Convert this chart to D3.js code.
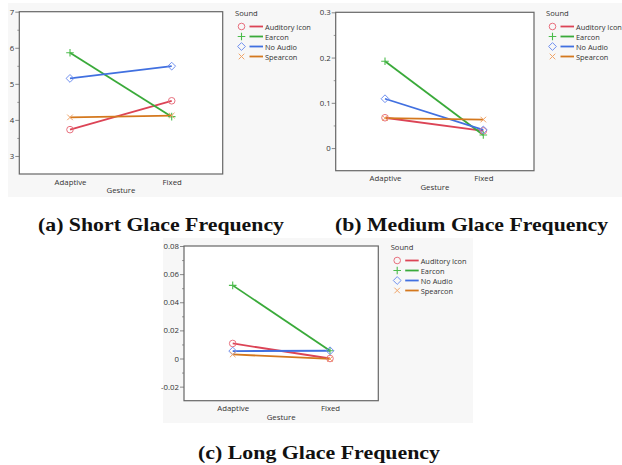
<!DOCTYPE html>
<html>
<head>
<meta charset="utf-8">
<script src="https://cdn.jsdelivr.net/npm/d3@7"></script>
<style>
  body { margin: 0; background: #fff; }
  svg { display: block; }
</style>
</head>
<body>
<svg id="chart" width="622" height="465"></svg>
<script>
// categories
const gestures = ["Adaptive", "Fixed"];
const sounds = ["Auditory Icon", "Earcon", "No Audio", "Spearcon"];

// values per sound, [Adaptive, Fixed]
const shortGlance = [[3.73, 4.53], [5.86, 4.09], [5.15, 5.49], [4.07, 4.12]];
const mediumGlance = [[0.067, 0.038], [0.192, 0.029], [0.109, 0.040], [0.066, 0.063]];
const longGlance = [[0.0107, 0.0], [0.052, 0.0055], [0.0053, 0.0055], [0.0029, -0.0003]];

// tick labels
const shortTicks = ["3", "4", "5", "6", "7"];
const mediumTicks = ["0", "0.1", "0.2", "0.3"];
const longTicks = ["-0.02", "0", "0.02", "0.04", "0.06", "0.08"];

const captions = ["(a) Short Glace Frequency", "(b) Medium Glace Frequency", "(c) Long Glace Frequency"];

const lineColors = ["#dc4456", "#3aaa3a", "#4170e0", "#d4781e"];
const markColors = ["#e8707e", "#4cbc4c", "#7090f0", "#f0a468"];
const shapes = ["circle", "plus", "diamond", "cross"];

const svg = d3.select("#chart");
const sansFont = "'Open Sans', 'Noto Sans', sans-serif";

function drawMarker(g, shape, x, y, color) {
    const s = 3.3;
    if (shape === "circle") {
        g.append("circle").attr("cx", x).attr("cy", y).attr("r", s)
            .attr("fill", "none").attr("stroke", color).attr("stroke-width", 1);
    } else if (shape === "diamond") {
        g.append("path")
            .attr("d", `M${x},${y - s - 0.6}L${x + s + 0.6},${y}L${x},${y + s + 0.6}L${x - s - 0.6},${y}Z`)
            .attr("fill", "none").attr("stroke", color).attr("stroke-width", 1);
    } else if (shape === "plus") {
        g.append("path")
            .attr("d", `M${x - s - 0.5},${y}H${x + s + 0.5}M${x},${y - s - 0.5}V${y + s + 0.5}`)
            .attr("stroke", color).attr("stroke-width", 1.1);
    } else {
        g.append("path")
            .attr("d", `M${x - s + 0.5},${y - s + 0.5}L${x + s - 0.5},${y + s - 0.5}M${x - s + 0.5},${y + s - 0.5}L${x + s - 0.5},${y - s + 0.5}`)
            .attr("stroke", color).attr("stroke-width", 1);
    }
}

function drawPanel(p) {
    const g = svg.append("g");

    // panel background
    g.append("rect").attr("x", p.bg[0]).attr("y", p.bg[1])
        .attr("width", p.bg[2]).attr("height", p.bg[3]).attr("fill", "#f7f7f7");

    const y = d3.scaleLinear().domain(p.domain).range([p.bottom, p.top]);
    const x = d3.scalePoint().domain(gestures).range([p.xa, p.xf]);

    g.append("rect").attr("x", p.left).attr("y", p.top)
        .attr("width", p.right - p.left).attr("height", p.bottom - p.top)
        .attr("fill", "#fff");

    // y axis with major + minor ticks
    const tickVals = p.ticks.map(Number);
    const step = tickVals[1] - tickVals[0];
    const minor = tickVals.map(v => v + step / 2).filter(v => v < p.domain[1]);
    if (tickVals[0] - step / 2 > p.domain[0]) minor.push(tickVals[0] - step / 2);

    const yAxis = g.append("g").attr("transform", `translate(${p.left},0)`)
        .call(d3.axisLeft(y).tickValues(tickVals).tickSize(4)
            .tickFormat((d, i) => p.ticks[i]));
    yAxis.select(".domain").remove();
    yAxis.selectAll(".tick line").attr("stroke", "#888");
    yAxis.selectAll(".tick text").attr("font-family", sansFont).attr("font-size", 7.8)
        .attr("fill", "#333").attr("x", -5);

    const yMinor = g.append("g").attr("transform", `translate(${p.left},0)`)
        .call(d3.axisLeft(y).tickValues(minor).tickSize(2).tickFormat(""));
    yMinor.select(".domain").remove();
    yMinor.selectAll(".tick line").attr("stroke", "#999");

    // x axis labels
    const xAxis = g.append("g").attr("transform", `translate(0,${p.bottom})`)
        .call(d3.axisBottom(x).tickSize(0).tickPadding(5));
    xAxis.select(".domain").remove();
    xAxis.selectAll(".tick text").attr("font-family", sansFont).attr("font-size", 7.8).attr("fill", "#333");

    g.append("text").attr("x", (p.left + p.right) / 2).attr("y", p.bottom + 19)
        .attr("text-anchor", "middle").attr("font-family", sansFont).attr("font-size", 7.8)
        .attr("fill", "#333").text("Gesture");

    // frame
    g.append("rect").attr("x", p.left).attr("y", p.top)
        .attr("width", p.right - p.left).attr("height", p.bottom - p.top)
        .attr("fill", "none").attr("stroke", "#666").attr("stroke-width", 1.2);

    // lines and markers
    const line = d3.line().x((d, i) => x(gestures[i])).y(d => y(d));
    p.values.forEach((vals, s) => {
        g.append("path").datum(vals).attr("d", line)
            .attr("fill", "none").attr("stroke", lineColors[s]).attr("stroke-width", 1.8);
    });
    p.values.forEach((vals, s) => {
        vals.forEach((v, i) => drawMarker(g, shapes[s], x(gestures[i]), y(v), markColors[s]));
    });

    // legend
    const lg = g.append("g").attr("transform", `translate(${p.legend[0]},${p.legend[1]})`);
    lg.append("text").attr("x", 0).attr("y", 3).attr("font-family", sansFont)
        .attr("font-size", 7.6).attr("fill", "#333").text("Sound");
    sounds.forEach((name, s) => {
        const ly = 13.5 + s * 10;
        drawMarker(lg, shapes[s], 6.5, ly, markColors[s]);
        lg.append("line").attr("x1", 14.5).attr("x2", 28).attr("y1", ly).attr("y2", ly)
            .attr("stroke", lineColors[s]).attr("stroke-width", 1.8);
        lg.append("text").attr("x", 30).attr("y", ly + 3).attr("font-family", sansFont)
            .attr("font-size", 7.4).attr("fill", "#333").text(name);
    });

    // caption
    svg.append("text").attr("x", p.caption[0]).attr("y", p.caption[1])
        .attr("font-family", "'Liberation Serif', 'DejaVu Serif', serif").attr("font-weight", "bold")
        .attr("font-size", 19).attr("fill", "#111")
        .attr("textLength", p.caption[2]).attr("lengthAdjust", "spacingAndGlyphs")
        .text(p.title);
}

drawPanel({
    bg: [8, 3, 307, 194], top: 11.7, bottom: 174, left: 19.3, right: 222.7,
    xa: 70, xf: 171.7, domain: [2.5, 7], ticks: shortTicks, values: shortGlance,
    legend: [235, 13], caption: [38, 231, 246], title: captions[0]
});
drawPanel({
    bg: [315, 3, 307, 194], top: 12.3, bottom: 170.7, left: 335.7, right: 534,
    xa: 385, xf: 483.3, domain: [-0.05, 0.3], ticks: mediumTicks, values: mediumGlance,
    legend: [546, 13], caption: [335, 231, 273], title: captions[1]
});
drawPanel({
    bg: [163, 238, 310, 185], top: 246, bottom: 400.7, left: 184, right: 378.3,
    xa: 232.7, xf: 330, domain: [-0.03, 0.08], ticks: longTicks, values: longGlance,
    legend: [390.7, 247], caption: [198, 459, 242], title: captions[2]
});
</script>
</body>
</html>
